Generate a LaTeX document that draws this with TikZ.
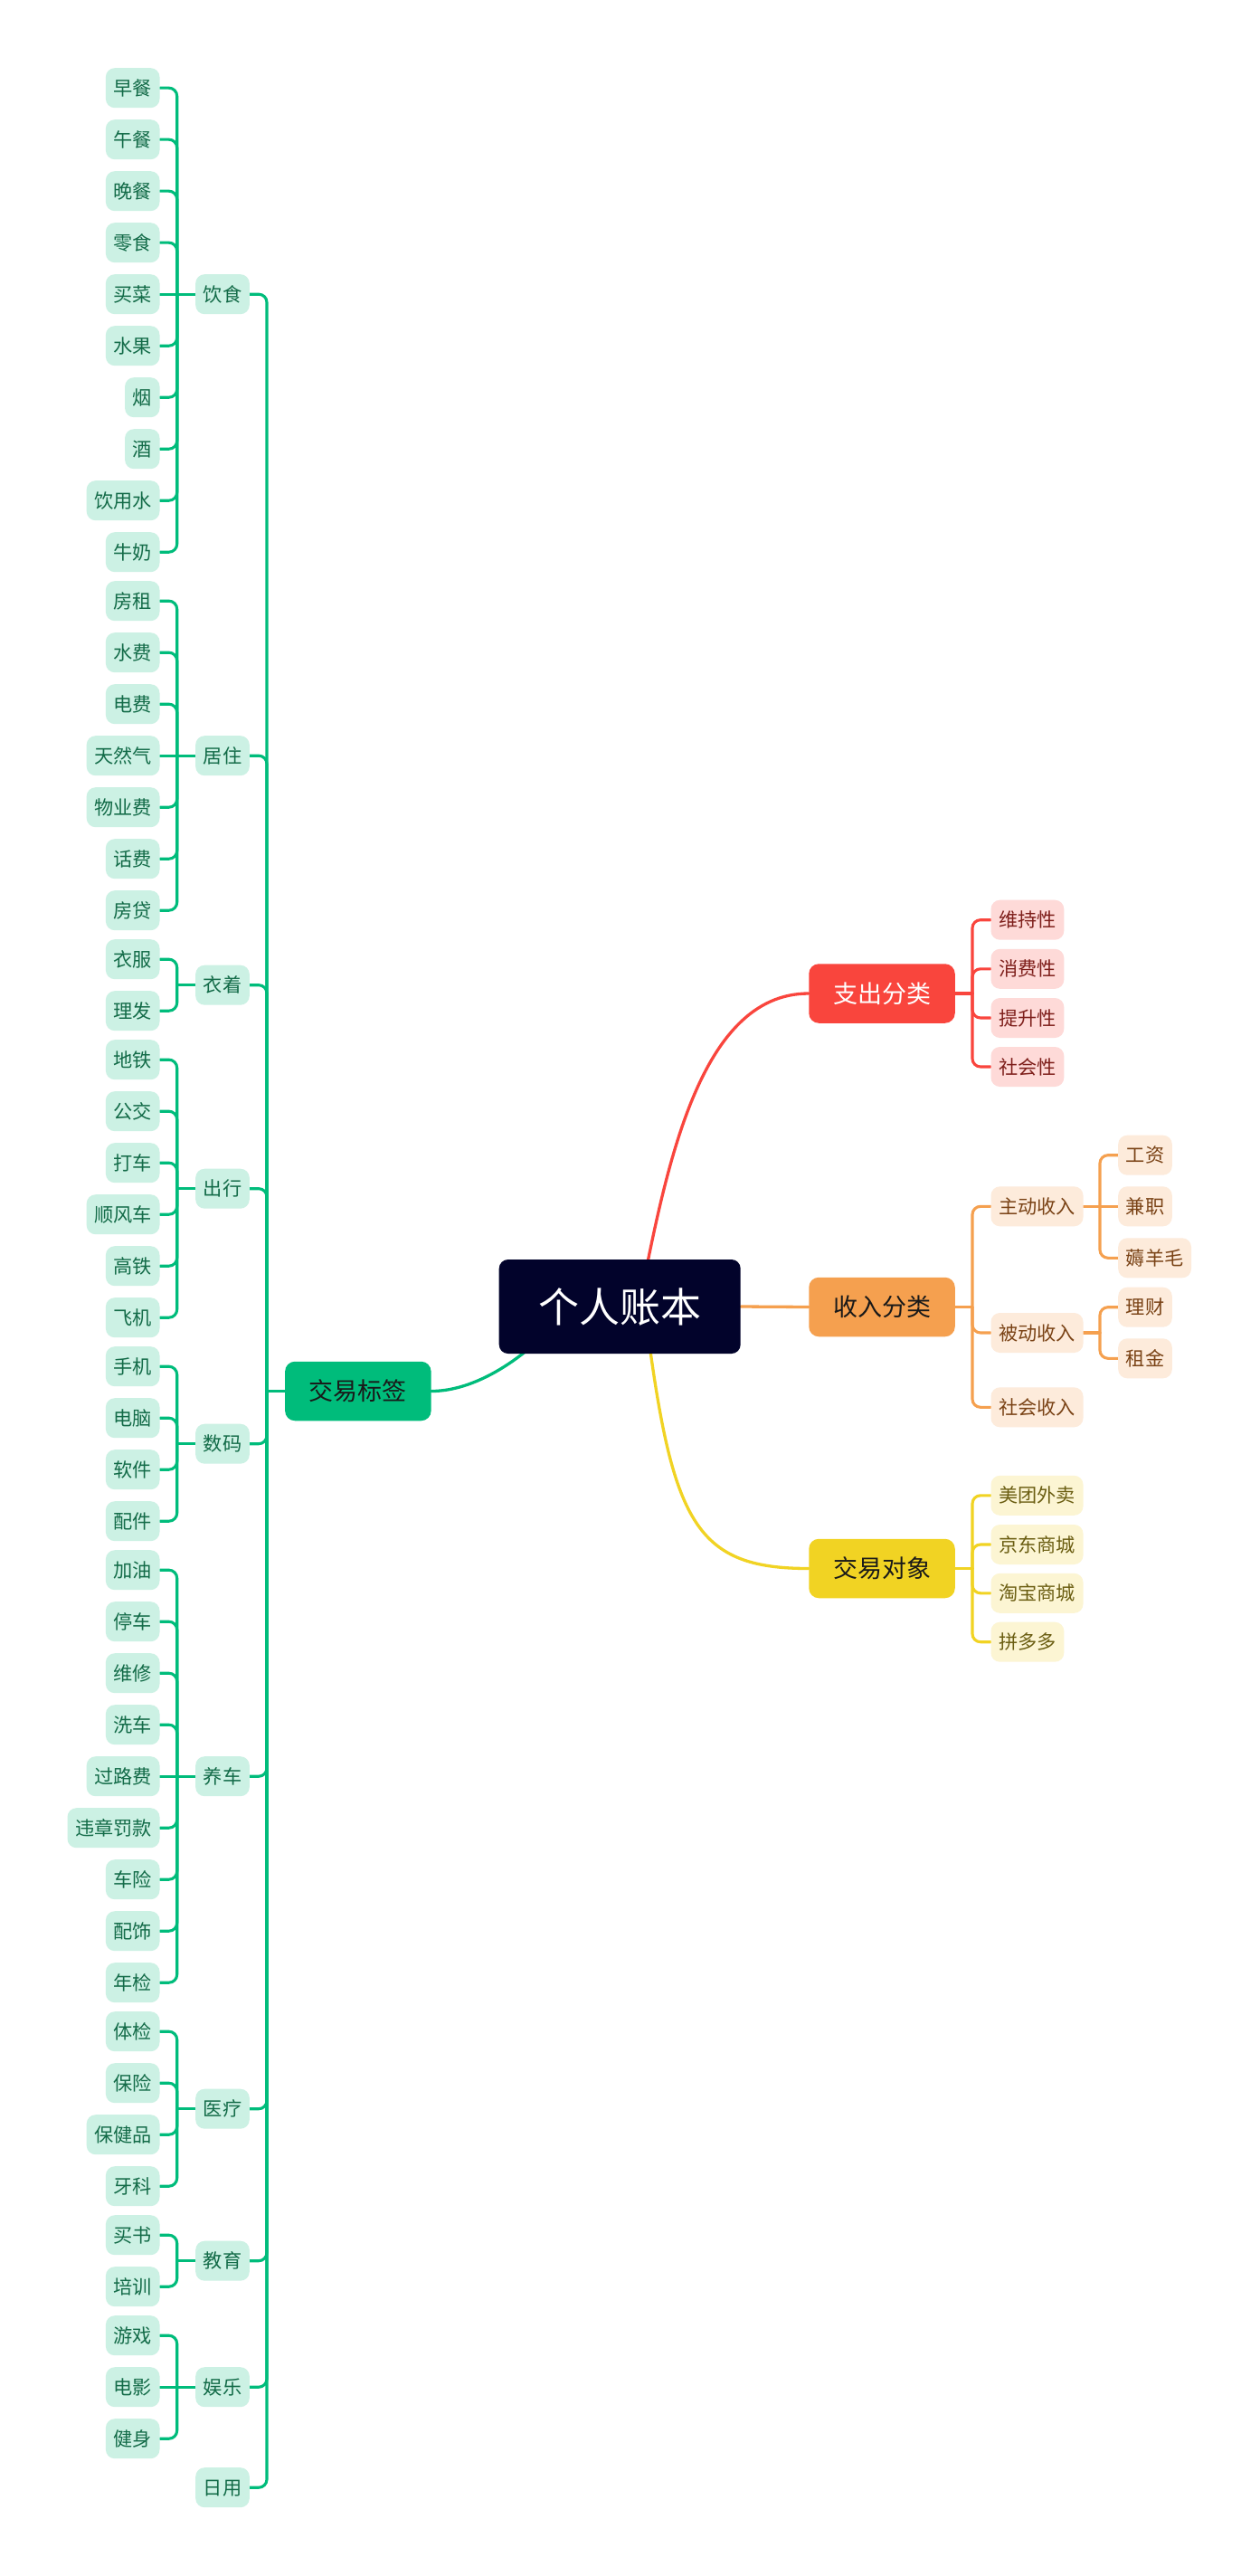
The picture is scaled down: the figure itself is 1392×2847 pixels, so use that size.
\documentclass[tikz,border=0pt]{standalone}
\usepackage{fontspec}
\newfontfamily\cjk{Noto Sans CJK SC}

\definecolor{cgreen}{HTML}{00BC7B}
\definecolor{cred}{HTML}{F9453D}
\definecolor{corange}{HTML}{F5A04F}
\definecolor{cyellow}{HTML}{F1D323}
\definecolor{croot}{HTML}{02032B}
\definecolor{gfill}{HTML}{CCF1E4}
\definecolor{gtext}{HTML}{136B48}
\definecolor{rfill}{HTML}{FEDAD8}
\definecolor{rtext}{HTML}{7E1F1B}
\definecolor{ofill}{HTML}{FDEBDB}
\definecolor{otext}{HTML}{7A4316}
\definecolor{yfill}{HTML}{FCF5D3}
\definecolor{ytext}{HTML}{6B5E12}

% layers: white paper, connector lines, then the topic boxes
\pgfdeclarelayer{paper}
\pgfdeclarelayer{lines}
\pgfsetlayers{paper,lines,main}

% one group of green leaves hanging left of a second-level topic
\newcommand\leafgroup[4]{%
  \node[gleaf] (#1) at (246,#3) {#2};
  \coordinate (#1j) at (195.7,#3);
  \begin{pgfonlayer}{lines}
    \draw[gline] (tagj) |- (#1.east);
    \draw[gline] (#1.west) -- (#1j);
  \end{pgfonlayer}
  \foreach \t/\yy [count=\i] in {#4} {
    \node[gleaf, anchor=east] (#1\i) at (176.7,\yy) {\t};
    \pgfmathtruncatemacro\samerow{abs(\yy-#3)<0.5}
    \begin{pgfonlayer}{lines}
      \ifnum\samerow=1 \draw[gline] (#1j) -- (#1\i.east);
      \else \draw[gline] (#1j) |- (#1\i.east); \fi
    \end{pgfonlayer}
  }%
}

\begin{document}
\begin{tikzpicture}[x=1pt, y=-1pt,
  leaf/.style={rounded corners=10pt, inner xsep=8.6pt, inner ysep=0pt,
    minimum height=44pt, text height=18.6pt, text depth=2.6pt,
    font=\cjk\fontsize{21.2}{21.2}\selectfont},
  gleaf/.style={leaf, fill=gfill, text=gtext},
  rleaf/.style={leaf, fill=rfill, text=rtext},
  oleaf/.style={leaf, fill=ofill, text=otext},
  yleaf/.style={leaf, fill=yfill, text=ytext},
  mainbox/.style={rounded corners=11pt, minimum width=161.5pt, minimum height=65.5pt,
    inner sep=0pt, text height=23.8pt, text depth=3.2pt, text=black!90,
    font=\cjk\fontsize{27}{27}\selectfont},
  rootbox/.style={rounded corners=10pt, minimum width=267pt, minimum height=104pt,
    inner sep=0pt, fill=croot, text=white, text height=39.6pt, text depth=5.4pt,
    font=\cjk\fontsize{45}{45}\selectfont},
  link/.style={line width=3.1pt, line cap=round},
  curve/.style={line width=3.3pt, line cap=round},
  gline/.style={link, draw=cgreen, rounded corners=9pt},
  rline/.style={link, draw=cred, rounded corners=9pt},
  oline/.style={link, draw=corange, rounded corners=9pt},
  yline/.style={link, draw=cyellow, rounded corners=9pt},
]
\useasboundingbox (0,0) rectangle (1392,2847);
\begin{pgfonlayer}{paper}
  \fill[white] (0,0) rectangle (1392,2847);
\end{pgfonlayer}

% ---------- central topic ----------
\node[rootbox] (root) at (685.2,1444) {个人账本};
\coordinate (rs1) at (705,1450);
\coordinate (rs2) at (712,1440);
\coordinate (rs3) at (630,1444);

% ---------- 支出分类 ----------
\node[mainbox, fill=cred, text=white] (exp) at (975,1098) {支出分类};
\coordinate (expj) at (1075,1098);
\begin{pgfonlayer}{lines}
  \draw[curve, draw=cred] (rs1) .. controls (735,1300) and (770,1098) .. (exp.west);
  \draw[rline] (exp.east) -- (expj);
\end{pgfonlayer}
\foreach \t/\yy [count=\i] in {维持性/1016.7, 消费性/1070.8, 提升性/1125, 社会性/1179} {
  \node[rleaf, anchor=west] (exp\i) at (1095.3,\yy) {\t};
  \begin{pgfonlayer}{lines}
    \draw[rline] (expj) |- (exp\i.west);
  \end{pgfonlayer}
}

% ---------- 收入分类 ----------
\node[mainbox, fill=corange] (inc) at (975,1444.5) {收入分类};
\coordinate (incj) at (1075,1444.5);
\node[oleaf, anchor=west] (act) at (1095.3,1333.3) {主动收入};
\node[oleaf, anchor=west] (pas) at (1095.3,1473) {被动收入};
\node[oleaf, anchor=west] (soc) at (1095.3,1555.3) {社会收入};
\coordinate (actj) at (1216,1333.3);
\coordinate (pasj) at (1216,1473);
\node[oleaf, anchor=west] (act1) at (1236,1276.7) {工资};
\node[oleaf, anchor=west] (act2) at (1236,1333.3) {兼职};
\node[oleaf, anchor=west] (act3) at (1236,1390.3) {薅羊毛};
\node[oleaf, anchor=west] (pas1) at (1236,1444.7) {理财};
\node[oleaf, anchor=west] (pas2) at (1236,1501.3) {租金};
\begin{pgfonlayer}{lines}
  \draw[curve, draw=corange] (root.east) -- (inc.west);
  \draw[oline] (inc.east) -- (incj);
  \draw[oline] (incj) |- (act.west);
  \draw[oline] (incj) |- (pas.west);
  \draw[oline] (incj) |- (soc.west);
  \draw[oline] (act.east) -- (actj);
  \draw[oline] (actj) |- (act1.west);
  \draw[oline] (actj) -- (act2.west);
  \draw[oline] (actj) |- (act3.west);
  \draw[oline] (pas.east) -- (pasj);
  \draw[oline] (pasj) |- (pas1.west);
  \draw[oline] (pasj) |- (pas2.west);
\end{pgfonlayer}

% ---------- 交易对象 ----------
\node[mainbox, fill=cyellow] (obj) at (975,1733.5) {交易对象};
\coordinate (objj) at (1075,1733.5);
\begin{pgfonlayer}{lines}
  \draw[curve, draw=cyellow] (rs2) .. controls (742,1680) and (765,1733.5) .. (obj.west);
  \draw[yline] (obj.east) -- (objj);
\end{pgfonlayer}
\foreach \t/\yy [count=\i] in {美团外卖/1652.8, 京东商城/1707, 淘宝商城/1760.8, 拼多多/1814.7} {
  \node[yleaf, anchor=west] (obj\i) at (1095.3,\yy) {\t};
  \begin{pgfonlayer}{lines}
    \draw[yline] (objj) |- (obj\i.west);
  \end{pgfonlayer}
}

% ---------- 交易标签 ----------
\node[mainbox, fill=cgreen] (tag) at (395.85,1537.5) {交易标签};
\coordinate (tagj) at (295,1537.5);
\begin{pgfonlayer}{lines}
  \draw[curve, draw=cgreen] (rs3) .. controls (590,1495) and (530,1537.5) .. (tag.east);
  \draw[gline] (tag.west) -- (tagj);
\end{pgfonlayer}

\leafgroup{food}{饮食}{325.2}{早餐/97.2, 午餐/154.2, 晚餐/211.2, 零食/268.2, 买菜/325.2,
  水果/382.2, 烟/439.2, 酒/496.2, 饮用水/553.2, 牛奶/610.2}
\leafgroup{home}{居住}{835.2}{房租/664.2, 水费/721.2, 电费/778.2, 天然气/835.2,
  物业费/892.2, 话费/949.2, 房贷/1006.2}
\leafgroup{wear}{衣着}{1088.7}{衣服/1060.2, 理发/1117.2}
\leafgroup{trip}{出行}{1313.7}{地铁/1171.2, 公交/1228.2, 打车/1285.2, 顺风车/1342.2,
  高铁/1399.2, 飞机/1456.2}
\leafgroup{digi}{数码}{1595.7}{手机/1510.2, 电脑/1567.2, 软件/1624.2, 配件/1681.2}
\leafgroup{car}{养车}{1963.2}{加油/1735.2, 停车/1792.2, 维修/1849.2, 洗车/1906.2,
  过路费/1963.2, 违章罚款/2020.2, 车险/2077.2, 配饰/2134.2, 年检/2191.2}
\leafgroup{med}{医疗}{2330.7}{体检/2245.2, 保险/2302.2, 保健品/2359.2, 牙科/2416.2}
\leafgroup{edu}{教育}{2498.7}{买书/2470.2, 培训/2527.2}
\leafgroup{fun}{娱乐}{2638.2}{游戏/2581.2, 电影/2638.2, 健身/2695.2}

\node[gleaf] (daily) at (246,2749.2) {日用};
\begin{pgfonlayer}{lines}
  \draw[gline] (tagj) |- (daily.east);
\end{pgfonlayer}
\end{tikzpicture}
\end{document}
